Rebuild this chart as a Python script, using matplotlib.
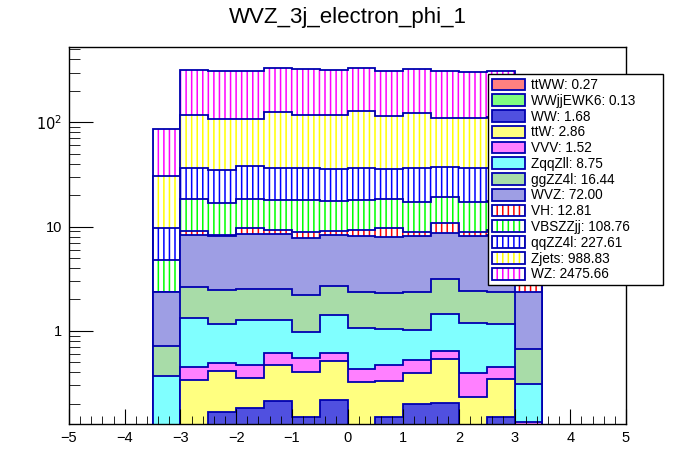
import numpy as np
import matplotlib
matplotlib.use('Agg')
import matplotlib.pyplot as plt
from matplotlib.patches import Patch
from matplotlib.legend_handler import HandlerTuple
from matplotlib.ticker import MultipleLocator, LogLocator, FuncFormatter, NullFormatter

plt.rcParams['font.family'] = ['Liberation Sans', 'DejaVu Sans']
plt.rcParams['hatch.linewidth'] = 1.1

# bin edges of phi
edges = np.arange(-3.5, 3.51, 0.5)

# per-sample bin contents, bottom of the stack first
ttww = [0.01, 0.02, 0.02, 0.02, 0.02, 0.02, 0.02, 0.02, 0.02, 0.02, 0.02, 0.02, 0.02, 0.01]
wwjj = [0.005, 0.01, 0.01, 0.01, 0.01, 0.01, 0.01, 0.01, 0.01, 0.01, 0.01, 0.01, 0.01, 0.005]
ww = [0.04, 0.09, 0.136, 0.152, 0.182, 0.119, 0.187, 0.09, 0.119, 0.169, 0.173, 0.09, 0.119, 0.04]
ttw = [0.03, 0.217, 0.245, 0.170, 0.257, 0.253, 0.296, 0.203, 0.181, 0.194, 0.333, 0.112, 0.195, 0.04]
vvv = [0.02, 0.112, 0.079, 0.117, 0.142, 0.146, 0.098, 0.107, 0.139, 0.131, 0.103, 0.161, 0.105, 0.039]
zqqzll = [0.267, 0.891, 0.67, 0.80, 0.66, 0.42, 0.80, 0.63, 0.57, 0.49, 0.81, 0.80, 0.71, 0.176]
ggzz = [0.343, 1.28, 1.31, 1.24, 1.24, 1.24, 1.29, 1.29, 1.26, 1.335, 1.68, 1.24, 1.22, 0.358]
wvz = [1.62, 5.63, 5.73, 6.04, 6.04, 5.57, 5.67, 5.83, 5.70, 5.83, 5.61, 5.75, 5.92, 1.70]
vh = [0.02, 0.89, 0.05, 1.08, 0.78, 1.04, 0.65, 1.15, 1.63, 0.64, 2.06, 0.64, 0.9, 0.6]
vbs = [2.38, 9.16, 8.45, 8.67, 8.57, 9.08, 8.48, 8.57, 8.67, 8.28, 8.5, 8.28, 8.4, 2.3]
qqzz = [4.88, 17.9, 18.1, 19.5, 18.3, 18.3, 17.9, 18.3, 17.1, 19.1, 17.7, 19.1, 18.5, 5.0]
zjets = [20.7, 80.2, 71.8, 68.8, 89.8, 80.2, 81.0, 92.8, 78.6, 85.8, 73.0, 72.8, 76, 21]
wz = [55.2, 197.6, 200.4, 200.4, 202, 204.6, 197.6, 199, 193, 199, 197, 194, 199, 56]

labels = ['ttWW: 0.27', 'WWjjEWK6: 0.13', 'WW: 1.68', 'ttW: 2.86', 'VVV: 1.52',
          'ZqqZll: 8.75', 'ggZZ4l: 16.44', 'WVZ: 72.00', 'VH: 12.81',
          'VBSZZjj: 108.76', 'qqZZ4l: 227.61', 'Zjets: 988.83', 'WZ: 2475.66']

hists = [ttww, wwjj, ww, ttw, vvv, zqqzll, ggzz, wvz, vh, vbs, qqzz, zjets, wz]
colors = ['#ff8080', '#80ff80', '#5050e0', '#ffff80', '#ff80ff', '#80ffff', '#a8dca8', '#9e9ee4',
          '#ff0000', '#00ff00', '#0000ff', '#ffff00', '#ff00ff']
hatched = [False]*8 + [True]*5

LINE = '#0000b0'
LW = 1.3

fig = plt.figure(figsize=(6.96, 4.72), dpi=100)
ax = fig.add_axes([69/696, 1-424/472, (626-69)/696, (424-47)/472])

stack = np.cumsum(np.array(hists), axis=0)

# ROOT style: draw the full cumulative histograms from the top one down
for i in range(len(hists)-1, -1, -1):
	if hatched[i]:
		ax.stairs(stack[i], edges, baseline=1e-3, fill=True, facecolor='white',
				  edgecolor=colors[i], hatch='|||', linewidth=0)
	else:
		ax.stairs(stack[i], edges, baseline=1e-3, fill=True, facecolor=colors[i], linewidth=0)
	ax.stairs(stack[i], edges, baseline=1e-3, fill=False, color=LINE, linewidth=LW)

ax.set_yscale('log')
ax.set_xlim(-5, 5)
ax.set_ylim(0.128, 527)

ax.xaxis.set_major_locator(MultipleLocator(1))
ax.xaxis.set_minor_locator(MultipleLocator(0.2))
ax.yaxis.set_major_locator(LogLocator(base=10))
ax.yaxis.set_minor_locator(LogLocator(base=10, subs=np.arange(2, 10)))
ax.yaxis.set_minor_formatter(NullFormatter())

def ylab(v, pos):
	if abs(v-1) < 1e-6:
		return '1'
	if abs(v-10) < 1e-6:
		return '10'
	return '$10^{%d}$' % int(round(np.log10(v)))

ax.yaxis.set_major_formatter(FuncFormatter(ylab))

ax.tick_params(which='both', direction='in', top=False, right=False, labelsize=10.5)
ax.tick_params(axis='x', which='major', length=11, pad=5)
ax.tick_params(axis='x', which='minor', length=5.5)
ax.tick_params(axis='y', which='major', length=17, pad=5)
ax.tick_params(axis='y', which='minor', length=8)
for s in ax.spines.values():
	s.set_linewidth(1.0)

handles = []
for i in range(len(hists)):
	if hatched[i]:
		handles.append((Patch(facecolor='white', edgecolor=colors[i], hatch='|||', linewidth=0),
						Patch(fill=False, edgecolor=LINE, linewidth=LW)))
	else:
		handles.append(Patch(facecolor=colors[i], edgecolor=LINE, linewidth=LW))

leg = fig.legend(handles, labels, loc='upper left',
				 bbox_to_anchor=(488/696, 1-74/472, (663-488)/696, 0), bbox_transform=fig.transFigure,
				 mode='expand', borderaxespad=0, fancybox=False, framealpha=1,
				 edgecolor='black', fontsize=9.8, handlelength=2.4, handleheight=0.95,
				 handletextpad=0.45, labelspacing=0.13, borderpad=0.3,
				 handler_map={tuple: HandlerTuple(ndivide=1, pad=0)})
leg.get_frame().set_linewidth(1.0)

fig.text(0.5, 1-18/472, 'WVZ_3j_electron_phi_1', ha='center', va='center', fontsize=16)

fig.savefig('out.png', dpi=100)
